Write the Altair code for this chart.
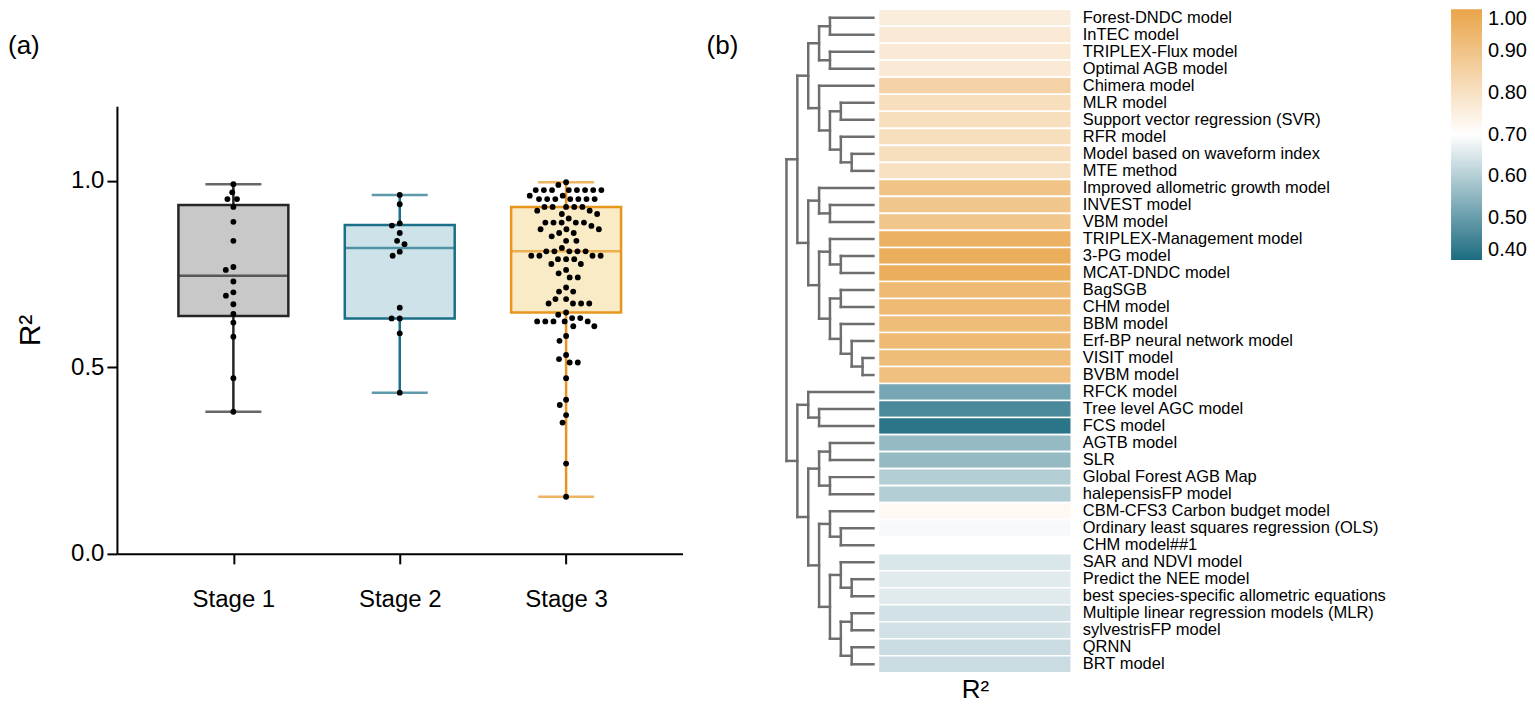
import math
import numpy as np
import pandas as pd
import altair as alt

# ---------------- Panel (a) data ----------------
STAGES = ["Stage 1", "Stage 2", "Stage 3"]
STAGE1 = [0.991, 0.969, 0.951, 0.951, 0.930, 0.890, 0.839, 0.769, 0.761,
          0.730, 0.701, 0.692, 0.669, 0.643, 0.620, 0.582, 0.471, 0.381]
STAGE2 = [0.962, 0.937, 0.886, 0.880, 0.860, 0.839, 0.830, 0.810, 0.799,
          0.660, 0.631, 0.631, 0.591, 0.432]
STAGE3 = [0.996, 0.989,
          0.975, 0.975, 0.975, 0.975, 0.975, 0.975, 0.975, 0.975,
          0.960, 0.960,
          0.951, 0.951, 0.951, 0.951, 0.951, 0.951, 0.951,
          0.930, 0.930, 0.930, 0.930, 0.930,
          0.920, 0.920, 0.911, 0.911, 0.899,
          0.888, 0.888, 0.888, 0.888, 0.888,
          0.879, 0.870, 0.870, 0.870, 0.860, 0.860, 0.851, 0.839, 0.839,
          0.820, 0.811, 0.811, 0.811, 0.811, 0.811,
          0.799, 0.799, 0.799, 0.799, 0.790, 0.790, 0.790, 0.777, 0.777,
          0.761, 0.752, 0.741, 0.741, 0.714, 0.703, 0.703, 0.683, 0.683,
          0.671, 0.671, 0.671, 0.671, 0.647, 0.641, 0.632, 0.632,
          0.623, 0.623, 0.623, 0.623, 0.623, 0.610, 0.610,
          0.584, 0.571, 0.533, 0.522, 0.513, 0.513, 0.471, 0.413, 0.399,
          0.372, 0.352, 0.242, 0.153]
FILLS = ["#C8C8C8", "#CDE3E9", "#F9EBC6"]
STROKES = ["#262626", "#1B6F86", "#E8951E"]

# ---------------- Panel (b) data ----------------
MODELS = [
    "Forest-DNDC model", "InTEC model", "TRIPLEX-Flux model", "Optimal AGB model",
    "Chimera model", "MLR model", "Support vector regression (SVR)", "RFR model",
    "Model based on waveform index", "MTE method", "Improved allometric growth model",
    "INVEST model", "VBM model", "TRIPLEX-Management model", "3-PG model",
    "MCAT-DNDC model", "BagSGB", "CHM model", "BBM model",
    "Erf-BP neural network model", "VISIT model", "BVBM model", "RFCK model",
    "Tree level AGC model", "FCS model", "AGTB model", "SLR",
    "Global Forest AGB Map", "halepensisFP model", "CBM-CFS3 Carbon budget model",
    "Ordinary least squares regression (OLS)", "CHM model##1", "SAR and NDVI model",
    "Predict the NEE model", "best species-specific allometric equations",
    "Multiple linear regression models (MLR)", "sylvestrisFP model", "QRNN", "BRT model",
]
R2 = [0.76, 0.77, 0.77, 0.77,
      0.85, 0.81, 0.81, 0.81, 0.81, 0.80,
      0.90, 0.89, 0.89, 0.96, 0.97, 0.97,
      0.93, 0.93, 0.92, 0.93, 0.92, 0.91,
      0.52, 0.46, 0.42, 0.56, 0.56, 0.60, 0.60,
      0.72, 0.69, 0.70, 0.65, 0.66, 0.66, 0.64, 0.64, 0.63, 0.63]
# dendrogram: (merge level, left, right); leaves are row indices
TREE = (8,
        (7,
         (6,
          (5, (4, 0, 1), (4, 2, 3)),
          (5, 4, (4, (3, 5, 6), (3, 7, (2, 8, 9))))),
         (6,
          (5, 10, (4, 11, 12)),
          (5, (4, 13, (3, 14, 15)),
           (4, (3, 16, 17), (3, 18, (2, 19, (1, 20, 21))))))),
        (7,
         (6, 22, (5, 23, 24)),
         (6,
          (5, (4, 25, 26), (4, 27, 28)),
          (5, (4, 29, (3, 30, 31)),
           (4, (3, 32, (2, 33, 34)), (3, (2, 35, 36), (2, 37, 38)))))))
COLOR_TICKS = [0.4, 0.5, 0.6, 0.7, 0.8, 0.9, 1.0]
COLOR_RANGE = ["#1B6B80", "#FFFFFF", "#E9A54A"]

# ---------------- layout sizes ----------------
A_W, A_H = 566, 448
A_TOP = 97
X_DOM = [0.33, 3.67]
Y_DOM = [0.0, 1.2]
PX_X = A_W / (X_DOM[1] - X_DOM[0])
PX_Y = A_H / (Y_DOM[1] - Y_DOM[0])
DOT_D = 8.3


def swarm(vals):
    ys = [v * PX_Y for v in vals]
    order = sorted(range(len(vals)), key=lambda i: -vals[i])
    placed = []
    xs = [0.0] * len(vals)
    for i in order:
        y = ys[i]
        cands = [0.0]
        for (py, px) in placed:
            dy = abs(py - y)
            if dy < DOT_D:
                dx = math.sqrt(DOT_D ** 2 - dy ** 2)
                cands += [px + dx, px - dx]
        cands.sort(key=lambda c: (abs(c), c))
        for c in cands:
            if all((c - px) ** 2 + (y - py) ** 2 >= DOT_D ** 2 - 1e-6 for (py, px) in placed):
                xs[i] = c
                break
        placed.append((y, xs[i]))
    return xs


pts_rows, sum_rows = [], []
for k, (name, vals) in enumerate(zip(STAGES, [STAGE1, STAGE2, STAGE3])):
    pos = k + 1
    offs = swarm(vals)
    for v, o in zip(vals, offs):
        pts_rows.append({"stage": name, "r2": v, "xp": pos + o / PX_X})
    arr = np.array(vals)
    sum_rows.append({
        "stage": name, "pos": pos,
        "q1": float(np.percentile(arr, 25, method="weibull")),
        "med": float(np.percentile(arr, 50, method="weibull")),
        "q3": float(np.percentile(arr, 75, method="weibull")),
        "lo": float(arr.min()), "hi": float(arr.max()),
    })
pts = pd.DataFrame(pts_rows)
summ = pd.DataFrame(sum_rows)

xenc = alt.X("pos:Q", scale=alt.Scale(domain=X_DOM, nice=False, zero=False),
             axis=alt.Axis(values=[1, 2, 3], title=None,
                           labelExpr="['" + "','".join(STAGES) + "'][datum.value-1]",
                           labelFontSize=24, labelPadding=24, tickSize=10, tickWidth=2,
                           domainWidth=2, domainColor="black", tickColor="black",
                           labelColor="black", grid=False))
yscale = alt.Scale(domain=Y_DOM, nice=False, zero=True)
yaxis = alt.Axis(values=[0, 0.5, 1.0], format=".1f", title="R²", titleFontSize=30,
                 titleFontWeight="normal", titleColor="black", labelFontSize=24,
                 labelColor="black", tickSize=10, tickWidth=2, domainWidth=2,
                 domainColor="black", tickColor="black", grid=False, titlePadding=25,
                 labelPadding=3)
stroke_sc = alt.Scale(domain=STAGES, range=STROKES)
fill_sc = alt.Scale(domain=STAGES, range=FILLS)

base = alt.Chart(summ)
whisk = base.mark_rule(strokeWidth=2.5).encode(
    x=xenc, y=alt.Y("lo:Q", scale=yscale, axis=yaxis), y2="hi:Q",
    stroke=alt.Stroke("stage:N", scale=stroke_sc, legend=None))
box = base.mark_bar(size=110, strokeWidth=2.5).encode(
    x="pos:Q", y="q1:Q", y2="q3:Q",
    fill=alt.Fill("stage:N", scale=fill_sc, legend=None),
    stroke=alt.Stroke("stage:N", scale=stroke_sc, legend=None))
med = base.mark_tick(orient="horizontal", size=110, thickness=2.5).encode(
    x="pos:Q", y="med:Q", color=alt.Color("stage:N", scale=stroke_sc, legend=None))
cap_lo = base.mark_tick(orient="horizontal", size=56, thickness=2.5).encode(
    x="pos:Q", y="lo:Q", color=alt.Color("stage:N", scale=stroke_sc, legend=None))
cap_hi = base.mark_tick(orient="horizontal", size=56, thickness=2.5).encode(
    x="pos:Q", y="hi:Q", color=alt.Color("stage:N", scale=stroke_sc, legend=None))
dots = alt.Chart(pts).mark_circle(size=34, color="black", opacity=1).encode(
    x="xp:Q", y="r2:Q")

plot_a = alt.layer(whisk, box, med, cap_lo, cap_hi, dots).properties(width=A_W, height=A_H)
label_a = alt.Chart(pd.DataFrame({"t": ["(a)"]})).mark_text(
    align="left", baseline="middle", fontSize=26, color="black").encode(
    text="t:N", x=alt.value(-109), y=alt.value(37)).properties(width=A_W, height=A_TOP)
panel_a = alt.vconcat(label_a, plot_a, spacing=0)

# ---------------- Panel (b) ----------------
N = len(MODELS)
segs = []


def walk(node):
    if isinstance(node, int):
        return float(node), 0.0
    h, l, r = node
    yl, hl = walk(l)
    yr, hr = walk(r)
    segs.append({"x1": hl, "x2": h, "y1": yl, "y2": yl})
    segs.append({"x1": hr, "x2": h, "y1": yr, "y2": yr})
    segs.append({"x1": h, "x2": h, "y1": yl, "y2": yr})
    return (yl + yr) / 2, h


walk(TREE)
seg_df = pd.DataFrame(segs)
H_B = 664

dendro_lines = alt.Chart(seg_df).mark_rule(color="#6E6E6E", strokeWidth=2.5,
                                           strokeCap="square").encode(
    x=alt.X("x1:Q", scale=alt.Scale(domain=[0, TREE[0]], reverse=True, nice=False, zero=False),
            axis=None),
    x2="x2:Q",
    y=alt.Y("y1:Q", scale=alt.Scale(domain=[-0.5, N - 0.5], reverse=True, nice=False, zero=False),
            axis=None),
    y2="y2:Q")
blabel = alt.Chart(pd.DataFrame({"t": ["(b)"]})).mark_text(
    align="left", baseline="middle", fontSize=26, color="black").encode(
    text="t:N", x=alt.value(-80), y=alt.value(37))
dendro = alt.layer(dendro_lines, blabel).properties(width=87, height=H_B)

heat_df = pd.DataFrame({"model": MODELS, "r2": R2, "metric": ["R²"] * N})
heat = alt.Chart(heat_df).mark_rect(stroke="white", strokeWidth=1.6).encode(
    x=alt.X("metric:N", axis=alt.Axis(title="R²", labels=False, ticks=False, domain=False,
                                      titleFontSize=26, titleFontWeight="normal",
                                      titleColor="black", titlePadding=4)),
    y=alt.Y("model:N", sort=MODELS,
            scale=alt.Scale(paddingInner=0, paddingOuter=0),
            axis=alt.Axis(orient="right", title=None, ticks=False, domain=False,
                          labelFontSize=16.5, labelColor="black", labelPadding=11,
                          labelLimit=600)),
    color=alt.Color("r2:Q",
                    scale=alt.Scale(domain=[0.4, 0.7, 1.0], range=COLOR_RANGE,
                                    interpolate="rgb"),
                    legend=alt.Legend(orient="none", legendX=665, legendY=0,
                                      direction="vertical", gradientLength=251,
                                      gradientThickness=31, values=COLOR_TICKS,
                                      format=".2f", labelFontSize=20, labelColor="black",
                                      title=None, labelOffset=6, gradientStrokeWidth=0)),
).properties(width=193, height=H_B)

panel_b = alt.hconcat(dendro, heat, spacing=2)

chart = alt.hconcat(panel_a, panel_b, spacing=24).properties(
    padding={"left": 0, "top": 0, "right": 0, "bottom": 0}
).configure(font="Liberation Sans").configure_view(stroke=None)

chart.save("out.html", embed_options={"renderer": "svg", "actions": False})
